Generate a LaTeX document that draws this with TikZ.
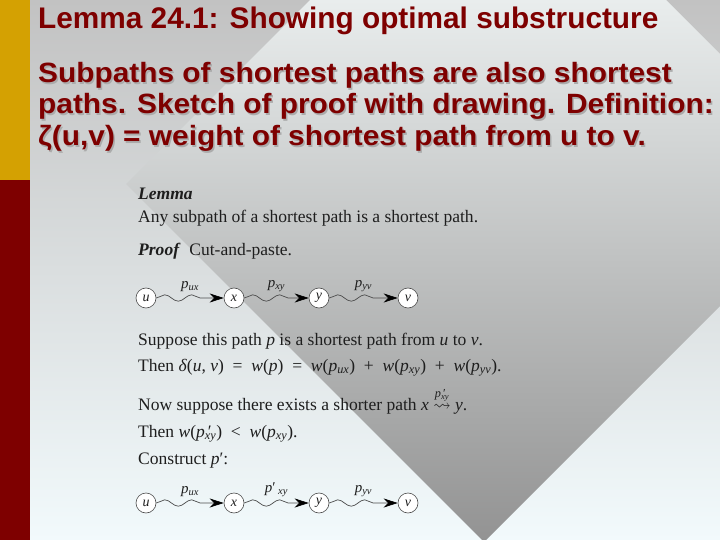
\documentclass[tikz,border=0pt]{standalone}
\usepackage{amsmath}
\usepackage{amssymb}
\usepackage{fontspec}
\usepackage{tikz}
\usetikzlibrary{decorations.pathmorphing}
\usetikzlibrary{arrows.meta}
\usepackage{xcolor}

\newfontfamily\titlefont{Liberation Sans}
\newfontfamily\slidefont[FakeStretch=1.07]{Liberation Sans}
\newfontfamily\bookfont{Liberation Serif}

\definecolor{slidered}{HTML}{7E0000}
\definecolor{slidegold}{HTML}{D4A102}
\definecolor{textshadow}{HTML}{ABABAB}
\definecolor{bgtop}{HTML}{C2C2C2}
\definecolor{bgbottom}{HTML}{F2FAFC}
\definecolor{diamondtop}{HTML}{E9EDED}
\definecolor{diamondbottom}{HTML}{939393}
\definecolor{ink}{HTML}{1E1E1E}

\newcommand{\psub}[1]{\textit{p}\textsubscript{\textit{#1}}}
\newcommand{\ppsub}[1]{\textit{p}\rlap{\,′}\textsubscript{\textit{#1}}}
\newcommand{\op}[1]{\hspace{0.5em}#1\hspace{0.5em}}

\begin{document}
\begin{tikzpicture}[x=1bp,y=-1bp,
  vertex/.style={circle,draw=black!70,fill=white,line width=0.6bp,inner sep=0pt,minimum size=20bp,text=ink,font=\bookfont\fontsize{14}{14}\selectfont\itshape},
  wavy/.style={draw=black!70,line width=0.7bp,decorate,decoration={snake,amplitude=3.2bp,segment length=27bp,post length=13bp},-{Stealth[length=14bp,width=9bp,inset=4.5bp,black]}},
  pathlabel/.style={midway,above=6bp,inner sep=0pt,text=ink,font=\bookfont\fontsize{15}{15}\selectfont},
  booktext/.style={anchor=base west,inner sep=0pt,text=ink,font=\bookfont\fontsize{17.6}{20}\selectfont},
  titletext/.style={anchor=base west,inner sep=0pt,text=slidered,font=\titlefont\bfseries\fontsize{29.9}{32}\selectfont},
  slidetext/.style={anchor=base west,inner sep=0pt,text=slidered,font=\slidefont\bfseries\fontsize{28}{32}\selectfont},
  shadowtext/.style={slidetext,text=textshadow}]
\useasboundingbox (0,0) rectangle (720,540);
\shade[top color=bgtop,bottom color=bgbottom] (0,0) rectangle (720,540);
\begin{scope}
\clip (126,184) -- (488,-178) -- (846,180) -- (484,542) -- cycle;
\shade[top color=diamondtop,bottom color=diamondbottom] (0,0) rectangle (720,540);
\end{scope}
\fill[slidegold] (0,0) rectangle (30,180);
\fill[slidered] (0,180) rectangle (30,540);

\node[titletext] (title) at (38,29) {Lemma 24.1: Showing optimal substructure};
\node[shadowtext] (body1s) at (39.5,84.5) {Subpaths of shortest paths are also shortest};
\node[shadowtext] (body2s) at (39.5,115.5) {paths. Sketch of proof with drawing. Definition:};
\node[shadowtext] (body3s) at (39.5,147.5) {ζ(u,v) = weight of shortest path from u to v.};
\node[slidetext] (body1) at (38,83) {Subpaths of shortest paths are also shortest};
\node[slidetext] (body2) at (38,114) {paths. Sketch of proof with drawing. Definition:};
\node[slidetext] (body3) at (38,146) {ζ(u,v) = weight of shortest path from u to v.};

\node[booktext] (lemma) at (138,200) {\textbf{\textit{Lemma}}};
\node[booktext] (claim) at (138,223) {Any subpath of a shortest path is a shortest path.};
\node[booktext] (proof) at (138,256) {\textbf{\textit{Proof}}\enspace Cut-and-paste.};

\node[vertex] (u1) at (146,298) {u};
\node[vertex] (x1) at (234,298) {x};
\node[vertex] (y1) at (319,298) {y};
\node[vertex] (v1) at (408,298) {v};
\draw[wavy] (u1) -- node[pathlabel] (pux1) {\psub{ux}} (x1);
\draw[wavy] (x1) -- node[pathlabel] (pxy1) {\psub{xy}} (y1);
\draw[wavy] (y1) -- node[pathlabel] (pyv1) {\psub{yv}} (v1);

\node[booktext] (suppose) at (138,345) {Suppose this path \textit{p} is a shortest path from \textit{u} to \textit{v}.};
\node[booktext] (then1) at (138,371) {Then \textit{δ}(\textit{u}, \textit{v})\op{=}\textit{w}(\textit{p})\op{=}\textit{w}(\psub{ux})\op{+}\textit{w}(\psub{xy})\op{+}\textit{w}(\psub{yv}).};
\node[booktext] (nowsup) at (138,410) {Now suppose there exists a shorter path \textit{x} $\overset{\text{\ppsub{xy}}}{\leadsto}$ \textit{y}.};
\node[booktext] (then2) at (138,437) {Then \textit{w}(\ppsub{xy})\op{<}\textit{w}(\psub{xy}).};
\node[booktext] (construct) at (138,464) {Construct \textit{p}′:};

\node[vertex] (u2) at (146,503) {u};
\node[vertex] (x2) at (234,503) {x};
\node[vertex] (y2) at (319,503) {y};
\node[vertex] (v2) at (408,503) {v};
\draw[wavy] (u2) -- node[pathlabel] (pux2) {\psub{ux}} (x2);
\draw[wavy] (x2) -- node[pathlabel] (pxy2) {\textit{p}′\,\textsubscript{\textit{xy}}} (y2);
\draw[wavy] (y2) -- node[pathlabel] (pyv2) {\psub{yv}} (v2);
\end{tikzpicture}
\end{document}
